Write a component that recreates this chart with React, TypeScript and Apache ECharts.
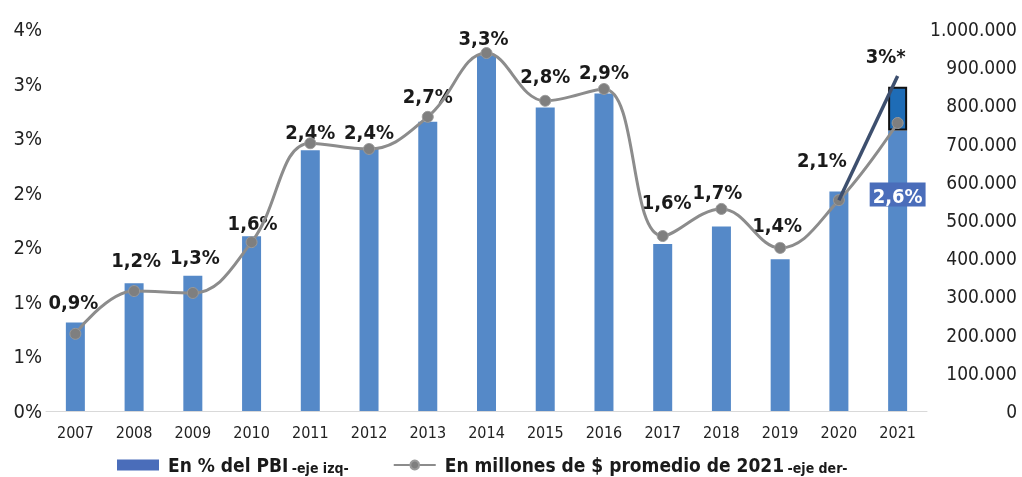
import React, { useEffect, useRef } from "react";
import * as echarts from "echarts";

const years = ["2007","2008","2009","2010","2011","2012","2013","2014","2015","2016","2017","2018","2019","2020","2021"];
const pbiShare = [0.81, 1.17, 1.24, 1.6, 2.39, 2.41, 2.65, 3.26, 2.78, 2.91, 1.53, 1.69, 1.39, 2.01, 2.57];
const pbiLabels = ["0,9%","1,2%","1,3%","1,6%","2,4%","2,4%","2,7%","3,3%","2,8%","2,9%","1,6%","1,7%","1,4%","2,1%","2,6%"];
const projectedExtra = [null,null,null,null,null,null,null,null,null,null,null,null,null,null,0.4];
const projectedLabel = "3%*";
const millions = [202000, 314000, 309000, 442000, 701000, 686000, 770000, 937000, 812000, 843000, 458000, 529000, 427000, 552000, 754000];
const projectionLine = [null,null,null,null,null,null,null,null,null,null,null,null,null,552000, 877000];
const leftTicks = { min: 0, max: 3.5, interval: 0.5 };
const rightTicks = { min: 0, max: 1000000, interval: 100000 };

const labelOffsets: number[][] = [
  [-2, -6], [2, -8], [2, -4], [1, 2], [0, -3], [0, -1], [0, -11], [-3, -2],
  [0, -17], [0, -6], [4, -27], [-4, -20], [-3, -19], [-17, -17], [0, 0],
];

const FONT = "'Liberation Sans Narrow', 'DejaVu Sans Condensed', 'Roboto', sans-serif";
const S1 = "En % del PBI";
const S2 = "En millones de $ promedio de 2021";

export default function App() {
  const ref = useRef<HTMLDivElement>(null);
  useEffect(() => {
    if (!ref.current) return;
    const chart = echarts.init(ref.current, null, { renderer: "svg" });
    const barData = pbiShare.map((v, i) => {
      if (i === pbiShare.length - 1) {
        return {
          value: v,
          label: {
            show: true,
            position: "insideTop",
            formatter: pbiLabels[i],
            color: "#ffffff",
            backgroundColor: "#4A6DBA",
            padding: [3, 3, 1, 3],
            offset: [0, 47],
          },
        };
      }
      return {
        value: v,
        label: { show: true, position: "top", formatter: pbiLabels[i], offset: labelOffsets[i] },
      };
    });
    chart.setOption({
      animation: false,
      textStyle: { fontFamily: FONT },
      grid: { left: 46, right: 95, top: 29, bottom: 66, containLabel: false },
      legend: {
        left: 117,
        top: 455,
        itemWidth: 42,
        itemHeight: 11,
        itemGap: 44,
        padding: 0,
        data: [
          { name: S1, icon: "rect", itemStyle: { color: "#4A6DBA" } },
          { name: S2 },
        ],
        formatter: (name: string) =>
          name === S1 ? `{a|${S1}} {b|-eje izq-}` : `{a|${S2}} {b|-eje der-}`,
        textStyle: {
          fontFamily: FONT,
          lineHeight: 20,
          padding: [0, 0, 0, 4],
          rich: {
            a: { fontSize: 19, fontWeight: "bold", color: "#1a1a1a", fontFamily: FONT, lineHeight: 20 },
            b: { fontSize: 14, fontWeight: "bold", color: "#1a1a1a", fontFamily: FONT, lineHeight: 20, verticalAlign: "bottom" },
          },
        },
      },
      xAxis: {
        type: "category",
        data: years,
        axisLine: { lineStyle: { color: "#d9d9d9", width: 1 } },
        axisTick: { show: false },
        axisLabel: { fontSize: 16, color: "#222", margin: 13, fontFamily: FONT },
      },
      yAxis: [
        {
          type: "value",
          ...leftTicks,
          splitLine: { show: false },
          axisLine: { show: false },
          axisTick: { show: false },
          axisLabel: {
            fontSize: 20,
            color: "#222",
            margin: 4,
            fontFamily: FONT,
            formatter: (v: number) => `${Math.round(v)}%`,
          },
        },
        {
          type: "value",
          position: "right",
          ...rightTicks,
          splitLine: { show: false },
          axisLine: { show: false },
          axisTick: { show: false },
          axisLabel: {
            fontSize: 19,
            color: "#222",
            align: "right",
            margin: 90,
            fontFamily: FONT,
            formatter: (v: number) => String(v).replace(/\B(?=(\d{3})+(?!\d))/g, "."),
          },
        },
      ],
      series: [
        {
          name: S1,
          type: "bar",
          stack: "pbi",
          yAxisIndex: 0,
          barWidth: 19,
          itemStyle: { color: "#5589C8" },
          label: { fontSize: 20, fontWeight: "bold", color: "#1a1a1a", fontFamily: FONT },
          data: barData,
          z: 2,
        },
        {
          name: "proj",
          type: "bar",
          stack: "pbi",
          yAxisIndex: 0,
          barWidth: 19,
          itemStyle: { color: "#1E6CB6", borderColor: "#111111", borderWidth: 2 },
          label: {
            show: true,
            position: "top",
            formatter: projectedLabel,
            offset: [-12, -16],
            fontSize: 20,
            fontWeight: "bold",
            color: "#1a1a1a",
            fontFamily: FONT,
          },
          data: projectedExtra,
          z: 2,
        },
        {
          name: S2,
          type: "line",
          yAxisIndex: 1,
          smooth: 0.4,
          symbol: "circle",
          symbolSize: 11,
          lineStyle: { color: "#8C8C8C", width: 3 },
          itemStyle: { color: "#7F7F7F", borderColor: "#9a9a9a", borderWidth: 1 },
          data: millions,
          z: 3,
        },
        {
          name: "projLine",
          type: "line",
          yAxisIndex: 1,
          symbol: "none",
          lineStyle: { color: "#3D4F6E", width: 3.5 },
          data: projectionLine,
          z: 4,
        },
      ],
    });
    return () => chart.dispose();
  }, []);
  return <div ref={ref} style={{ position: "fixed", left: 0, top: 0, width: 1022, height: 477 }} />;
}
